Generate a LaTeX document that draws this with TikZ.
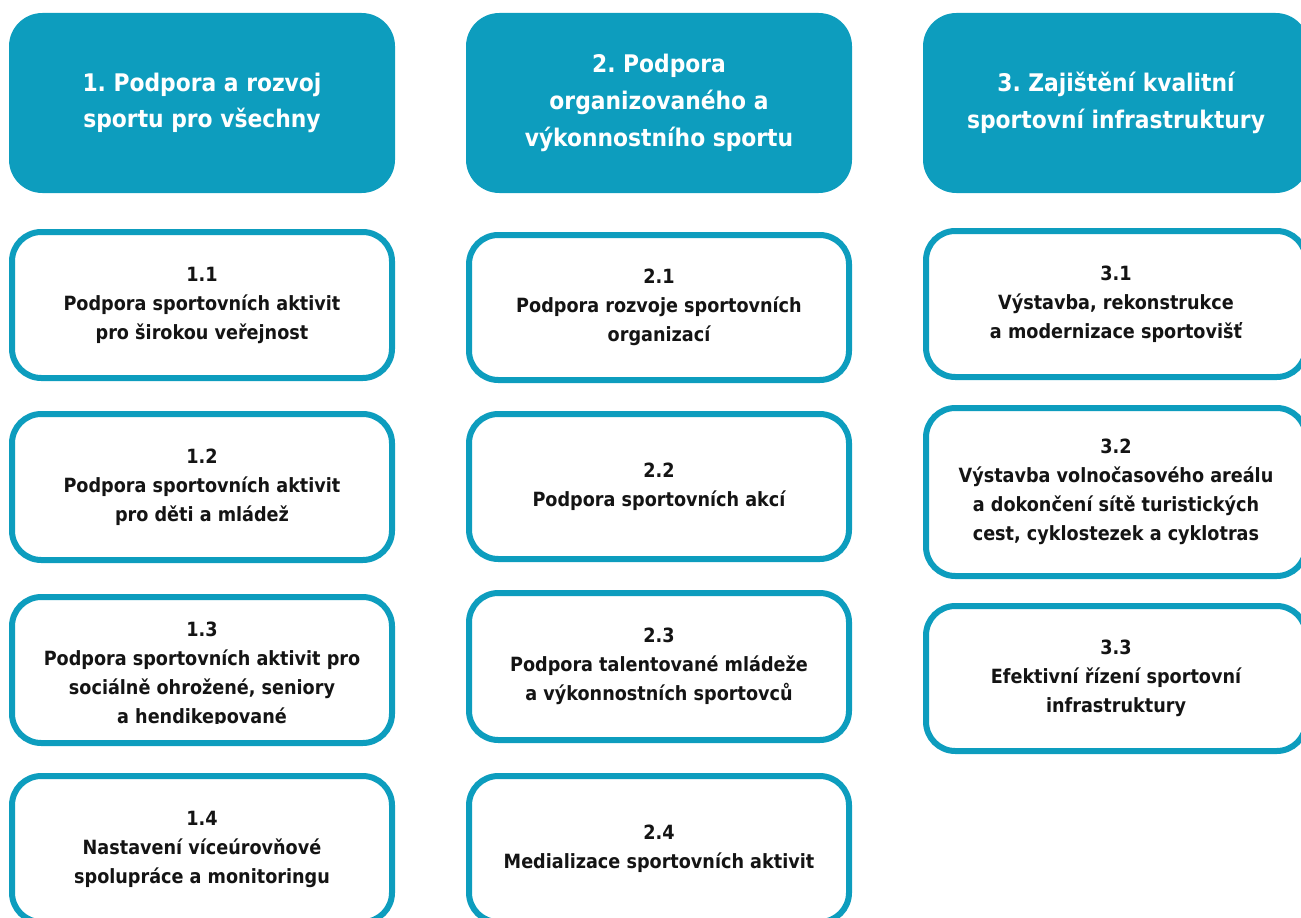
\documentclass[tikz,border=0pt]{standalone}
\usepackage{fontspec}
\setmainfont{DejaVu Sans Condensed}
\usepackage{tikz}
\frenchspacing
\definecolor{cilteal}{RGB}{13,157,190}
\tikzset{
  cil/.style={fill=cilteal,text=white,rounded corners=25pt,minimum width=289.5pt,minimum height=135pt,align=center,inner sep=0pt,font=\bfseries\fontsize{18.2}{27.5}\selectfont},
  opatreni/.style={draw=cilteal,fill=white,line width=4.5pt,rounded corners=22pt,minimum width=285pt,minimum height=109.5pt,align=center,inner sep=0pt,text=black!92,font=\bfseries\fontsize{14.7}{21.75}\selectfont}
}

\begin{document}
\begin{tikzpicture}[x=0.75pt,y=-0.75pt]
\useasboundingbox (0,0) rectangle (1301,917);
\clip (0,0) rectangle (1301,917);
\node[cil] (c1) at (202,103) {1. Podpora a rozvoj\\sportu pro všechny};
\node[cil] (c2) at (659,103) {2. Podpora\\organizovaného a\\výkonnostního sportu};
\node[cil] (c3) at (1116,103) {3. Zajištění kvalitní\\sportovní infrastruktury};
\node[opatreni] (o11) at (202,305) {1.1\\Podpora sportovních aktivit\\pro širokou veřejnost};
\node[opatreni] (o12) at (202,487) {1.2\\Podpora sportovních aktivit\\pro děti a mládež};
\node[opatreni] (o13) at (202,670) {};
\begin{scope}
\clip (0,590) rectangle (420,723);
\node[opatreni,draw=none,fill=none] (t13) at (202,675) {1.3\\Podpora sportovních aktivit pro\\sociálně ohrožené, seniory\\a hendikepované};
\end{scope}
\node[opatreni] (o14) at (202,849) {1.4\\Nastavení víceúrovňové\\spolupráce a monitoringu};
\node[opatreni,minimum height=108.75pt] (o21) at (659,307.5) {2.1\\Podpora rozvoje sportovních\\organizací};
\node[opatreni,minimum height=108.75pt] (o22) at (659,486.5) {2.2\\Podpora sportovních akcí};
\node[opatreni,minimum height=110.25pt] (o23) at (659,666.5) {2.3\\Podpora talentované mládeže\\a výkonnostních sportovců};
\node[opatreni] (o24) at (659,849) {2.4\\Medializace sportovních aktivit};
\node[opatreni] (o31) at (1116,304) {3.1\\Výstavba, rekonstrukce\\a modernizace sportovišť};
\node[opatreni,minimum height=126pt] (o32) at (1116,492) {3.2\\Výstavba volnočasového areálu\\a dokončení sítě turistických\\cest, cyklostezek a cyklotras};
\node[opatreni,minimum height=108.75pt] (o33) at (1116,678.5) {3.3\\Efektivní řízení sportovní\\infrastruktury};
\end{tikzpicture}
\end{document}
